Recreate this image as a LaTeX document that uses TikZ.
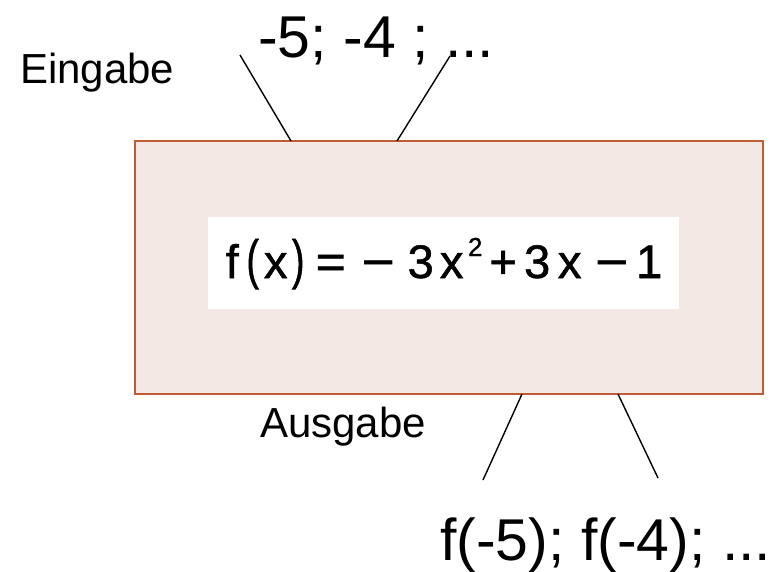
\documentclass[tikz,border=0pt]{standalone}
\usepackage{fontspec}
\setmainfont{Liberation Sans}
\newfontfamily\fmlfont{Liberation Sans}[FakeBold=1.2]
\definecolor{boxfill}{RGB}{244,232,228}
\definecolor{boxline}{RGB}{192,92,52}
\newcommand\glat[2]{\makebox[0pt][l]{\hspace*{#1pt}\makebox[0pt][c]{#2}}}
\begin{document}
\begin{tikzpicture}[x=1pt,y=-1pt,
  lbl/.style={inner sep=0pt,anchor=base west},
  big/.style={lbl,font=\fontsize{59}{62}\selectfont},
  mid/.style={lbl,font=\fontsize{42}{45}\selectfont},
  conn/.style={line width=1.4pt,black}]
\useasboundingbox (0,0) rectangle (775,571);
\node[draw=boxline,line width=2.2pt,fill=boxfill,minimum width=628pt,minimum height=253pt,inner sep=0pt] (box) at (449,267.5) {};
\node[fill=white,minimum width=471pt,minimum height=92pt,inner sep=0pt] (inner) at (443.5,263) {};
\node[lbl,font=\fmlfont\fontsize{47}{50}\selectfont] (formula) at (222,278) {%
\glat{9.5}{f}\glat{30}{\scalebox{0.8}[1.15]{(}}\glat{53}{x}\glat{75.5}{\scalebox{0.8}[1.15]{)}}%
\glat{108}{\scalebox{1.1}[1]{=}}\glat{155.5}{\scalebox{1.2}[1]{−}}\glat{198}{3}\glat{229}{x}%
\glat{252.5}{\raisebox{22pt}{\fontsize{26}{28}\selectfont 2}}\glat{280.5}{+}\glat{314.5}{3}%
\glat{347}{x}\glat{389}{\scalebox{1.2}[1]{−}}\glat{426.5}{1}};
\node[mid] (ein) at (20,83) {Eingabe};
\node[big] (inp) at (258,57) {-5; -4 ; ...};
\node[mid] (aus) at (260,437) {Ausgabe};
\node[big] (out) at (440,560) {f(-5); f(-4); ...};
\coordinate (a1) at (240,55);
\coordinate (b1) at (291,141);
\coordinate (a2) at (450,56);
\coordinate (b2) at (397,141);
\coordinate (a3) at (522,394);
\coordinate (b3) at (483,480);
\coordinate (a4) at (618,394);
\coordinate (b4) at (658,478);
\draw[conn] (a1) -- (b1);
\draw[conn] (a2) -- (b2);
\draw[conn] (a3) -- (b3);
\draw[conn] (a4) -- (b4);
\end{tikzpicture}
\end{document}
